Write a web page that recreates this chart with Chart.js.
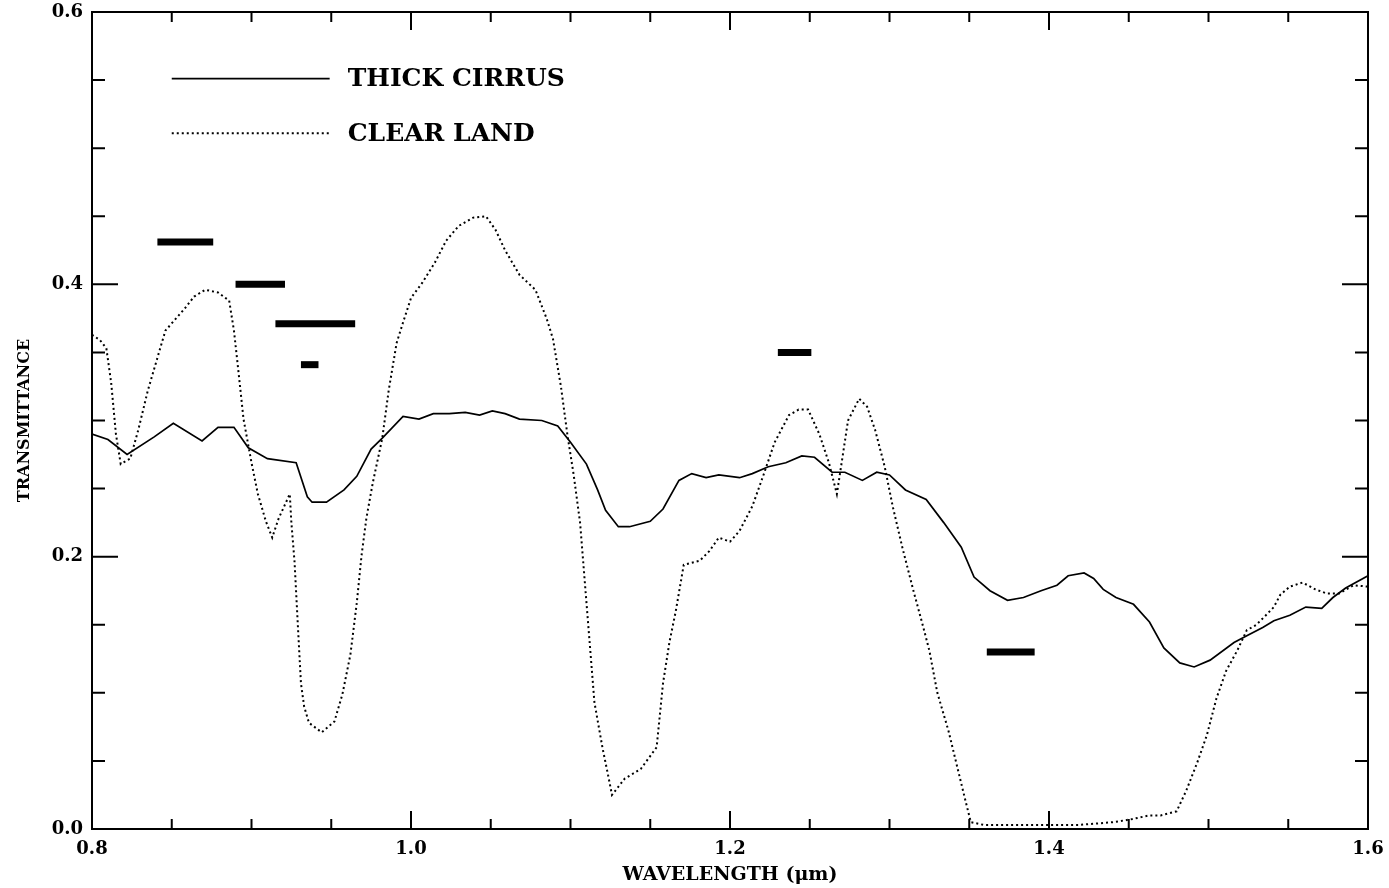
<!DOCTYPE html>
<html>
<head>
<meta charset="utf-8">
<script src="https://cdn.jsdelivr.net/npm/chart.js@4.4.1/dist/chart.umd.min.js"></script>
<style>
  body { margin: 0; background: #fff; }
  #wrap { width: 1389px; height: 888px; }
</style>
</head>
<body>
<div id="wrap"><canvas id="transChart"></canvas></div>
<script>
// thick cirrus (solid line)
const cirrusWl = [0.800, 0.810, 0.822, 0.839, 0.851, 0.869, 0.879, 0.889, 0.898, 0.910, 0.928, 0.935,
    0.938, 0.947, 0.958, 0.966, 0.975, 0.982, 0.995, 1.005, 1.014, 1.024, 1.034, 1.043, 1.051, 1.059,
    1.068, 1.082, 1.092, 1.100, 1.110, 1.117, 1.122, 1.130, 1.137, 1.150, 1.158, 1.168, 1.176, 1.185,
    1.193, 1.206, 1.214, 1.224, 1.235, 1.245, 1.253, 1.264, 1.272, 1.283, 1.292, 1.300, 1.310, 1.323,
    1.334, 1.345, 1.353, 1.363, 1.374, 1.384, 1.395, 1.405, 1.412, 1.422, 1.428, 1.434, 1.442, 1.453,
    1.463, 1.472, 1.482, 1.491, 1.501, 1.516, 1.524, 1.534, 1.541, 1.551, 1.561, 1.571, 1.578, 1.586, 1.600];
const cirrusT = [0.290, 0.286, 0.275, 0.288, 0.298, 0.285, 0.295, 0.295, 0.280, 0.272, 0.269, 0.244,
    0.240, 0.240, 0.249, 0.259, 0.279, 0.287, 0.303, 0.301, 0.305, 0.305, 0.306, 0.304, 0.307, 0.305,
    0.301, 0.300, 0.296, 0.284, 0.268, 0.249, 0.234, 0.222, 0.222, 0.226, 0.235, 0.256, 0.261, 0.258,
    0.260, 0.258, 0.261, 0.266, 0.269, 0.274, 0.273, 0.262, 0.262, 0.256, 0.262, 0.260, 0.249, 0.242,
    0.225, 0.207, 0.185, 0.175, 0.168, 0.170, 0.175, 0.179, 0.186, 0.188, 0.184, 0.176, 0.170, 0.165,
    0.152, 0.133, 0.122, 0.119, 0.124, 0.137, 0.142, 0.148, 0.153, 0.157, 0.163, 0.162, 0.170, 0.177, 0.186];

// clear land (dotted line)
const landWl = [0.800, 0.805, 0.809, 0.812, 0.815, 0.818, 0.824, 0.829, 0.835, 0.841, 0.846, 0.852,
    0.858, 0.864, 0.871, 0.879, 0.886, 0.889, 0.892, 0.895, 0.900, 0.904, 0.909, 0.913, 0.917, 0.924,
    0.925, 0.927, 0.929, 0.931, 0.933, 0.936, 0.944, 0.952, 0.957, 0.962, 0.966, 0.969, 0.972, 0.976,
    0.982, 0.986, 0.991, 0.995, 1.000, 1.007, 1.015, 1.022, 1.030, 1.039, 1.047, 1.053, 1.059, 1.068,
    1.078, 1.085, 1.089, 1.094, 1.098, 1.102, 1.106, 1.109, 1.112, 1.115, 1.120, 1.124, 1.126, 1.134,
    1.144, 1.154, 1.158, 1.162, 1.166, 1.171, 1.181, 1.187, 1.193, 1.200, 1.206, 1.214, 1.221, 1.228,
    1.237, 1.243, 1.249, 1.256, 1.262, 1.267, 1.270, 1.274, 1.281, 1.286, 1.291, 1.297, 1.302, 1.308,
    1.315, 1.321, 1.325, 1.330, 1.337, 1.343, 1.348, 1.351, 1.359, 1.388, 1.419, 1.440, 1.451, 1.463,
    1.470, 1.480, 1.486, 1.493, 1.499, 1.505, 1.511, 1.518, 1.524, 1.530, 1.536, 1.541, 1.545, 1.551,
    1.559, 1.567, 1.574, 1.582, 1.591, 1.600];
const landT = [0.363, 0.359, 0.353, 0.328, 0.290, 0.268, 0.272, 0.293, 0.322, 0.346, 0.366, 0.374,
    0.382, 0.391, 0.396, 0.394, 0.388, 0.366, 0.334, 0.301, 0.269, 0.246, 0.226, 0.214, 0.228, 0.246,
    0.225, 0.196, 0.151, 0.107, 0.090, 0.078, 0.071, 0.079, 0.099, 0.128, 0.166, 0.201, 0.228, 0.254,
    0.287, 0.322, 0.357, 0.372, 0.390, 0.401, 0.416, 0.432, 0.443, 0.449, 0.450, 0.440, 0.425, 0.407,
    0.396, 0.375, 0.360, 0.325, 0.290, 0.260, 0.225, 0.181, 0.137, 0.093, 0.060, 0.037, 0.025, 0.037,
    0.044, 0.060, 0.107, 0.137, 0.160, 0.194, 0.197, 0.204, 0.214, 0.211, 0.219, 0.237, 0.260, 0.284,
    0.304, 0.308, 0.308, 0.290, 0.269, 0.246, 0.269, 0.300, 0.316, 0.310, 0.293, 0.266, 0.237, 0.207,
    0.175, 0.149, 0.131, 0.100, 0.072, 0.043, 0.019, 0.005, 0.003, 0.003, 0.003, 0.005, 0.007, 0.010,
    0.010, 0.013, 0.028, 0.049, 0.069, 0.096, 0.116, 0.131, 0.146, 0.150, 0.157, 0.163, 0.172, 0.178,
    0.181, 0.176, 0.173, 0.173, 0.179, 0.178];

// band markers (thick horizontal bars)
const bandStart = [0.841, 0.890, 0.915, 0.931, 1.230, 1.361];
const bandEnd   = [0.876, 0.921, 0.965, 0.942, 1.251, 1.391];
const bandLevel = [0.431, 0.400, 0.371, 0.341, 0.350, 0.130];

const legendNames = ["THICK CIRRUS", "CLEAR LAND"];

const SERIF = "'DejaVu Serif', 'Liberation Serif', serif";

function isMajor(v) {
    return Math.abs(v / 0.2 - Math.round(v / 0.2)) < 1e-6;
}

const datasets = [
    {
        data: cirrusWl.map((w, i) => ({ x: w, y: cirrusT[i] })),
        borderColor: '#000',
        borderWidth: 1.7,
        pointRadius: 0,
        tension: 0
    },
    {
        data: landWl.map((w, i) => ({ x: w, y: landT[i] })),
        borderColor: '#000',
        borderWidth: 2,
        borderDash: [2, 3],
        pointRadius: 0,
        tension: 0
    }
];
bandStart.forEach((s, i) => {
    datasets.push({
        data: [{ x: s, y: bandLevel[i] }, { x: bandEnd[i], y: bandLevel[i] }],
        borderColor: '#000',
        borderWidth: 7,
        borderCapStyle: 'butt',
        pointRadius: 0
    });
});

// inward ticks, box frame and the in-plot legend
const framePlugin = {
    id: 'frame',
    afterDraw(chart) {
        const { ctx, chartArea: { left, right, top, bottom }, scales: { x, y } } = chart;
        ctx.save();
        ctx.strokeStyle = '#000';
        ctx.lineWidth = 2;
        ctx.beginPath();
        x.ticks.forEach(t => {
            const px = x.getPixelForValue(t.value);
            const len = isMajor(t.value) ? 18 : 10;
            ctx.moveTo(px, bottom); ctx.lineTo(px, bottom - len);
            ctx.moveTo(px, top); ctx.lineTo(px, top + len);
        });
        y.ticks.forEach(t => {
            const py = y.getPixelForValue(t.value);
            const len = isMajor(t.value) ? 26 : 13;
            ctx.moveTo(left, py); ctx.lineTo(left + len, py);
            ctx.moveTo(right, py); ctx.lineTo(right - len, py);
        });
        ctx.stroke();
        ctx.strokeRect(left, top, right - left, bottom - top);

        // legend
        const x0 = x.getPixelForValue(0.85), x1 = x.getPixelForValue(0.949);
        const rows = [y.getPixelForValue(0.551), y.getPixelForValue(0.511)];
        ctx.font = "bold 25px " + SERIF;
        ctx.fillStyle = '#000';
        ctx.textBaseline = 'middle';
        rows.forEach((ry, i) => {
            ctx.lineWidth = i === 0 ? 1.7 : 2;
            ctx.setLineDash(i === 0 ? [] : [2, 3]);
            ctx.beginPath();
            ctx.moveTo(x0, ry); ctx.lineTo(x1, ry);
            ctx.stroke();
            ctx.fillText(legendNames[i], x1 + 18, ry + 1);
        });
        ctx.restore();
    }
};

const ctx = document.getElementById('transChart').getContext('2d');
new Chart(ctx, {
    type: 'line',
    data: { datasets: datasets },
    plugins: [framePlugin],
    options: {
        responsive: true,
        maintainAspectRatio: false,
        animation: false,
        layout: { padding: { top: 12, right: 21, left: 0, bottom: 0 } },
        plugins: {
            legend: { display: false },
            tooltip: { enabled: false }
        },
        scales: {
            x: {
                type: 'linear',
                min: 0.8,
                max: 1.6,
                grid: { display: false, drawTicks: false },
                border: { display: false },
                ticks: {
                    stepSize: 0.05,
                    autoSkip: false,
                    maxRotation: 0,
                    padding: 10,
                    color: '#000',
                    font: { family: SERIF, size: 18, weight: 'bold' },
                    callback: v => isMajor(v) ? v.toFixed(1) : ''
                },
                title: {
                    display: true,
                    text: 'WAVELENGTH (μm)',
                    color: '#000',
                    font: { family: SERIF, size: 19, weight: 'bold' },
                    padding: { top: 0, bottom: 2 }
                },
                afterFit: s => {
                    s.height = 59;
                    s.paddingLeft = 0;
                    s.paddingRight = 0;
                }
            },
            y: {
                min: 0,
                max: 0.6,
                grid: { display: false, drawTicks: false },
                border: { display: false },
                ticks: {
                    stepSize: 0.05,
                    autoSkip: false,
                    padding: 9,
                    color: '#000',
                    font: { family: SERIF, size: 18, weight: 'bold' },
                    callback: v => isMajor(v) ? v.toFixed(1) : ''
                },
                title: {
                    display: true,
                    text: 'TRANSMITTANCE',
                    color: '#000',
                    font: { family: SERIF, size: 16, weight: 'bold' },
                    padding: { top: 15, bottom: 0 }
                },
                afterFit: s => {
                    s.width = 92;
                    s.paddingTop = 0;
                    s.paddingBottom = 0;
                }
            }
        }
    }
});
</script>
</body>
</html>
